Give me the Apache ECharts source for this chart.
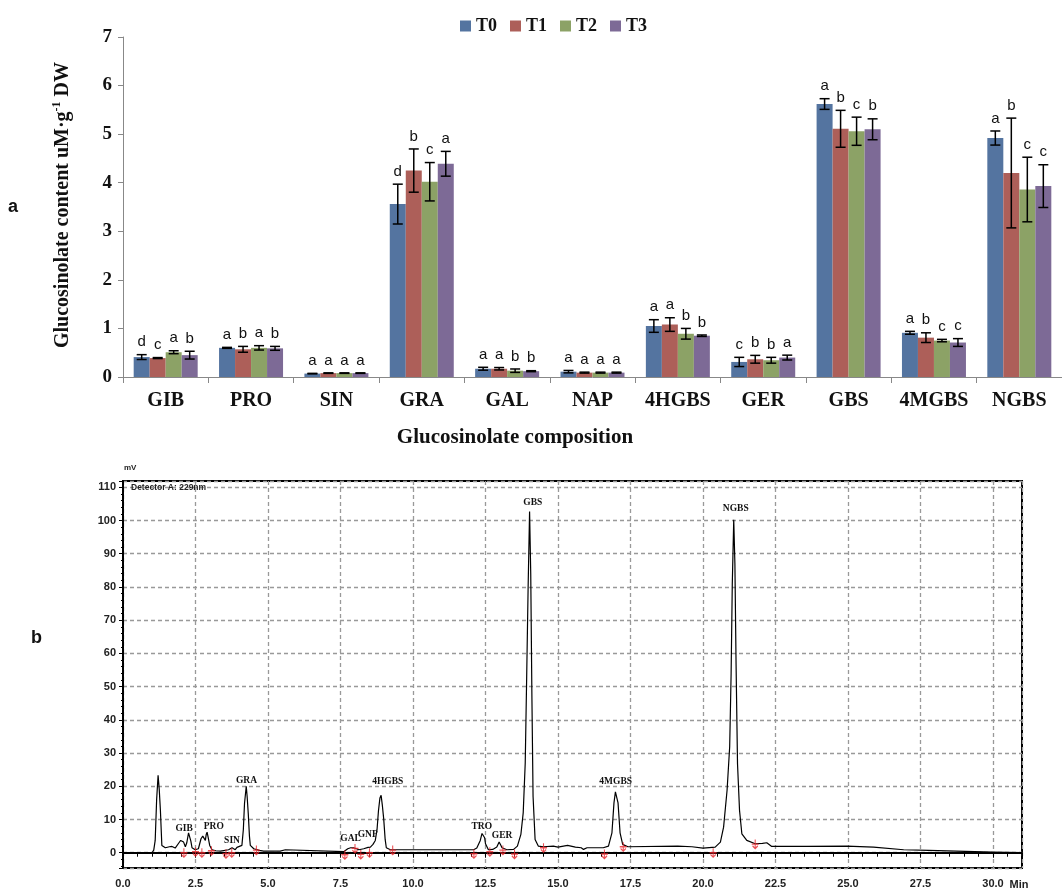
<!DOCTYPE html>
<html>
<head>
<meta charset="utf-8">
<script src="https://cdn.jsdelivr.net/npm/echarts@6/dist/echarts.min.js"></script>
<style>html,body{margin:0;padding:0;background:#fff}#c{width:1062px;height:890px}</style>
</head>
<body>
<div id="c"></div>
<script>
// ---------- Panel a data ----------
const categories = ['GIB','PRO','SIN','GRA','GAL','NAP','4HGBS','GER','GBS','4MGBS','NGBS'];
const seriesNames = ['T0','T1','T2','T3'];
const t0 = [0.41,0.60,0.07,3.56,0.17,0.11,1.05,0.31,5.62,0.91,4.92];
const t1 = [0.39,0.57,0.08,4.25,0.17,0.09,1.08,0.365,5.11,0.81,4.20];
const t2 = [0.51,0.60,0.08,4.02,0.13,0.09,0.89,0.345,5.06,0.75,3.86];
const t3 = [0.45,0.59,0.08,4.39,0.12,0.09,0.85,0.40,5.10,0.71,3.93];
const e0 = [0.05,0.01,0.005,0.41,0.03,0.025,0.13,0.095,0.11,0.03,0.145];
const e1 = [0.01,0.06,0.005,0.445,0.025,0.01,0.14,0.08,0.38,0.10,1.13];
const e2 = [0.03,0.045,0.005,0.395,0.035,0.01,0.11,0.06,0.29,0.025,0.665];
const e3 = [0.08,0.04,0.005,0.255,0.01,0.01,0.015,0.05,0.215,0.08,0.44];
const l0 = ['d','a','a','d','a','a','a','c','a','a','a'];
const l1 = ['c','b','a','b','a','a','a','b','b','b','b'];
const l2 = ['a','a','a','c','b','a','b','b','c','c','c'];
const l3 = ['b','b','a','a','b','a','b','a','b','c','c'];
const yTicksA = [0,1,2,3,4,5,6,7];

// ---------- Panel b data (chromatogram, time min / mV) ----------
const trace = [
[0,0],[1.00,0],[1.06,0.8],[1.11,3.7],[1.16,16],[1.21,23.3],[1.25,19],[1.29,12.7],[1.34,2.2],[1.46,1.5],[1.60,1.8],[1.69,1.9],[1.80,1.4],[1.86,1.2],[1.93,3.0],[1.99,3.7],[2.05,3.4],[2.09,3.2],[2.15,1.8],[2.20,3.0],[2.26,6.0],[2.30,6.2],[2.34,3.5],[2.38,1.5],[2.49,0.9],[2.60,1.2],[2.69,4.2],[2.75,5.0],[2.78,4.9],[2.84,3.7],[2.87,5.5],[2.90,6.2],[2.94,4.5],[2.99,2.2],[3.07,0.9],[3.20,0.6],[3.36,0.5],[3.64,0.9],[3.70,1.3],[3.76,1.5],[3.82,1.1],[3.87,0.9],[3.93,1.6],[3.99,1.9],[4.10,2.2],[4.15,7],[4.19,14.8],[4.25,20.0],[4.28,17],[4.32,11.7],[4.36,5],[4.39,2.2],[4.51,1.2],[4.70,0.7],[4.85,0.5],[5.42,0.5],[5.45,0.9],[5.60,0.9],[5.62,0.4],[7.61,0.3],[7.75,1.2],[7.85,1.5],[7.95,1.5],[8.05,1.2],[8.13,0.9],[8.30,1.2],[8.45,1.6],[8.53,1.7],[8.62,2.5],[8.70,3.7],[8.76,7],[8.81,12.7],[8.86,16.5],[8.90,17.3],[8.94,14.5],[8.99,10.2],[9.04,4],[9.08,1.5],[9.22,0.9],[10.0,0.9],[10.03,1.3],[10.08,0.9],[10.75,0.9],[10.80,1.3],[10.85,0.9],[12.09,0.9],[12.20,1.4],[12.32,3.7],[12.38,5.8],[12.43,6.2],[12.47,4.5],[12.50,2.7],[12.60,0.9],[12.75,1.0],[12.89,1.7],[12.97,3.2],[13.02,2.4],[13.07,1.5],[13.24,0.9],[13.47,1.0],[13.60,2.0],[13.72,5.5],[13.80,12],[13.87,27],[13.92,53],[13.97,80],[14.02,102.7],[14.06,84],[14.10,47],[14.14,17],[14.21,4],[14.32,2.0],[14.50,1.8],[14.84,2.0],[15.0,1.7],[15.33,2.2],[15.60,1.7],[15.80,1.5],[15.88,1.0],[16.0,1.5],[16.56,1.5],[16.74,2.0],[16.86,6],[16.93,15],[16.98,18.3],[17.03,18.0],[17.07,15],[17.14,6],[17.23,2.5],[17.41,1.8],[19.13,2.0],[19.62,1.8],[20.0,1.4],[20.42,1.7],[20.60,3.2],[20.71,7.7],[20.83,18.8],[20.92,31.9],[20.97,54],[21.01,81],[21.06,100.2],[21.10,87],[21.14,57],[21.19,26.8],[21.26,12.7],[21.34,5.7],[21.51,3.7],[21.80,2.7],[22.05,2.8],[22.20,3.0],[22.37,1.9],[23.58,1.9],[24.96,2.0],[25.88,1.7],[26.92,0.9],[27.78,0.7],[27.84,0.2],[30.0,0.2],[30.05,0],[31.0,0]
];
const peakNames = ['GIB','PRO','SIN','GRA','GAL','GNP','4HGBS','TRO','GER','GBS','4MGBS','NGBS'];
const peakTimes = [2.11,3.13,3.76,4.26,7.85,8.44,9.13,12.37,13.07,14.13,16.99,21.13];
const peakLabelY = [7.4,7.9,3.7,21.8,4.2,5.5,21.5,8.0,5.3,105.4,21.5,103.5];
const redMarks = [[2.1,0],[2.5,0.3],[2.72,0],[3.05,0.6],[3.55,-0.3],[3.75,0],[4.6,0.8],[7.65,-0.6],[8.0,1.3],[8.2,-0.5],[8.5,0],[9.3,0.8],[12.1,-0.3],[12.65,0.3],[13.1,0.8],[13.5,-0.4],[14.5,1.5],[16.6,-0.4],[17.25,1.8],[20.35,0],[21.8,2.6]];

const colors = ['#5474A0','#AD5F59','#8CA266','#7D6A96'];
const vals = [t0,t1,t2,t3], errs = [e0,e1,e2,e3], lets = [l0,l1,l2,l3];
const BARW = 16;

const errData = [];
for (let s = 0; s < 4; s++) for (let i = 0; i < categories.length; i++) errData.push([i, s, vals[s][i], errs[s][i]]);

const serif = 'Liberation Serif';
const chart = echarts.init(document.getElementById('c'), null, {renderer: 'canvas'});
const option = {
  animation: false,
  backgroundColor: '#fff',
  legend: {
    data: seriesNames, left: 455, top: 12, itemWidth: 11, itemHeight: 11, itemGap: 13, icon: 'rect',
    textStyle: {fontFamily: serif, fontWeight: 'bold', fontSize: 18, color: '#111'}
  },
  grid: [
    {left: 123, top: 37, width: 948, height: 340},
    {left: 123, top: 481, width: 899, height: 387, show: true, borderColor: '#000', borderWidth: 2, backgroundColor: 'transparent'}
  ],
  xAxis: [
    {type: 'category', gridIndex: 0, data: categories,
     axisLine: {lineStyle: {color: '#888', width: 1}},
     axisTick: {show: true, length: 6, interval: 0, lineStyle: {color: '#888'}},
     axisLabel: {interval: 0, margin: 14, fontFamily: serif, fontWeight: 'bold', fontSize: 20, color: '#111'}},
    {type: 'value', gridIndex: 1, min: 0, max: 31, interval: 2.5,
     axisLine: {lineStyle: {color: '#000', width: 2}},
     axisTick: {length: 5, lineStyle: {color: '#000'}},
     minorTick: {show: true, splitNumber: 5, length: 4, lineStyle: {color: '#000'}},
     axisLabel: {margin: 10, showMaxLabel: false, fontFamily: 'Liberation Sans', fontWeight: 'bold', fontSize: 11, color: '#222',
                 formatter: v => v.toFixed(1)},
     splitLine: {show: true, lineStyle: {color: '#999', type: [4, 3], width: 1.3}}}
  ],
  yAxis: [
    {type: 'value', gridIndex: 0, min: 0, max: 7, interval: 1,
     axisLine: {show: true, lineStyle: {color: '#888', width: 1}},
     axisTick: {show: true, length: 5, lineStyle: {color: '#888'}},
     axisLabel: {margin: 11, fontFamily: serif, fontWeight: 'bold', fontSize: 19, color: '#111'},
     splitLine: {show: false}},
    {type: 'value', gridIndex: 1, min: -4.6, max: 111.9, splitNumber: 11,
     axisLine: {show: true, lineStyle: {color: '#000', width: 2}},
     axisTick: {show: true, length: 4, lineStyle: {color: '#000'}},
     minorTick: {show: true, splitNumber: 5, length: 2, lineStyle: {color: '#000'}},
     axisLabel: {margin: 7, showMinLabel: false, showMaxLabel: false, fontFamily: 'Liberation Sans', fontWeight: 'bold', fontSize: 11, color: '#222',
                 formatter: v => (Math.abs(v % 10) < 1e-6 ? String(v) : '')},
     splitLine: {show: true, lineStyle: {color: '#999', type: [4, 3], width: 1.3}}}
  ],
  graphic: [
    {type: 'text', left: 8, top: 198, style: {text: 'a', fontFamily: 'Liberation Sans', fontWeight: 'bold', fontSize: 18, fill: '#111'}},
    {type: 'text', x: 63, y: 205, rotation: Math.PI / 2,
     style: {text: '{m|Glucosinolate content uM·g}{s|-1}{m| DW}', align: 'center', verticalAlign: 'middle',
       rich: {m: {fontFamily: serif, fontWeight: 'bold', fontSize: 20, fill: '#111', lineHeight: 24},
              s: {fontFamily: serif, fontWeight: 'bold', fontSize: 12, fill: '#111', verticalAlign: 'top', lineHeight: 24}}}},
    {type: 'text', x: 515, y: 438, style: {text: 'Glucosinolate composition', align: 'center', verticalAlign: 'middle', fontFamily: serif, fontWeight: 'bold', fontSize: 21, fill: '#111'}},
    {type: 'text', left: 31, top: 629, style: {text: 'b', fontFamily: 'Liberation Sans', fontWeight: 'bold', fontSize: 18, fill: '#111'}},
    {type: 'text', x: 124, y: 468, style: {text: 'mV', verticalAlign: 'middle', fontFamily: 'Liberation Sans', fontWeight: 'bold', fontSize: 8, fill: '#222'}},
    {type: 'text', x: 131, y: 488, z: 10, style: {text: 'Detector A: 229nm', verticalAlign: 'middle', fontFamily: 'Liberation Sans', fontWeight: 'bold', fontSize: 8.5, fill: '#222'}},
    {type: 'text', x: 1019, y: 885, style: {text: 'Min', align: 'center', verticalAlign: 'middle', fontFamily: 'Liberation Sans', fontWeight: 'bold', fontSize: 11, fill: '#222'}}
  ],
  series: [
    ...seriesNames.map((n, s) => ({
      name: n, type: 'bar', xAxisIndex: 0, yAxisIndex: 0, data: vals[s], barWidth: BARW, barGap: '0%',
      itemStyle: {color: colors[s]}
    })),
    {type: 'custom', xAxisIndex: 0, yAxisIndex: 0, data: errData, z: 5, silent: true,
     renderItem: function (params, api) {
       const ci = api.value(0), s = api.value(1), v = api.value(2), e = api.value(3);
       const base = api.coord([ci, v]);
       const x = base[0] + (s - 1.5) * BARW;
       const yt = api.coord([ci, v + e])[1], yb = api.coord([ci, v - e])[1];
       const st = {stroke: '#000', lineWidth: 1.5};
       return {type: 'group', children: [
         {type: 'line', shape: {x1: x, y1: yt, x2: x, y2: yb}, style: st},
         {type: 'line', shape: {x1: x - 5, y1: yt, x2: x + 5, y2: yt}, style: st},
         {type: 'line', shape: {x1: x - 5, y1: yb, x2: x + 5, y2: yb}, style: st},
         {type: 'text', x: x, y: yt - 5, style: {text: lets[s][ci], align: 'center', verticalAlign: 'bottom',
           fontFamily: 'Liberation Sans', fontSize: 15, fill: '#111'}}
       ]};
     }},
    {type: 'line', xAxisIndex: 1, yAxisIndex: 1, data: trace, showSymbol: false, symbol: 'none',
     lineStyle: {color: '#000', width: 1.2}, z: 3, silent: true},
    {type: 'scatter', xAxisIndex: 1, yAxisIndex: 1, data: redMarks, silent: true, z: 4,
     symbol: 'path://M0,0 L0,10 M-4,5 L4,5 M-3,7 L0,10 L3,7', symbolSize: [7, 9],
     itemStyle: {color: 'none', borderColor: '#e8242a', borderWidth: 1.2}},
    {type: 'custom', xAxisIndex: 1, yAxisIndex: 1, silent: true, z: 6,
     data: peakNames.map((n, i) => [peakTimes[i], peakLabelY[i], i]),
     renderItem: function (params, api) {
       const p = api.coord([api.value(0), api.value(1)]);
       return {type: 'text', x: p[0], y: p[1], style: {text: peakNames[api.value(2)], align: 'center', verticalAlign: 'middle',
         fontFamily: serif, fontWeight: 'bold', fontSize: 9.5, fill: '#111'}};
     }}
  ]
};
chart.setOption(option);
</script>
</body>
</html>
